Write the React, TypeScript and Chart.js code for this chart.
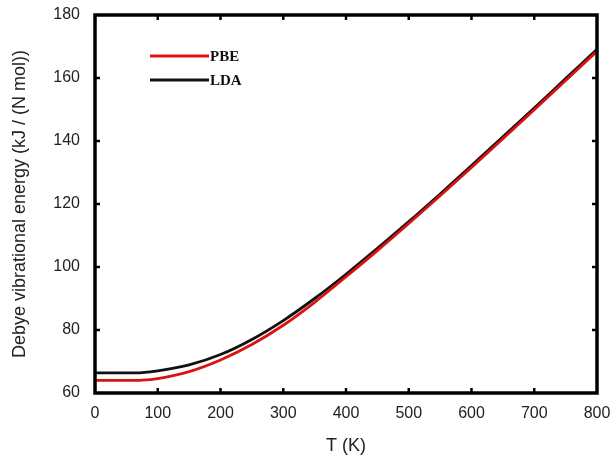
import React, { useEffect, useRef } from "react";
import { Chart, registerables } from "chart.js";

Chart.register(...registerables);

const temperatures = [0, 50, 75, 100, 150, 200, 250, 300, 350, 400, 450, 500, 550, 600, 650, 700, 750, 800];
const pbeValues = [64.0, 64.0, 64.1, 64.6, 66.8, 70.5, 75.4, 81.5, 88.8, 96.9, 105.2, 113.8, 122.6, 131.6, 140.7, 149.9, 159.2, 168.5];
const ldaValues = [66.4, 66.4, 66.5, 67.0, 68.9, 72.2, 77.0, 83.0, 90.0, 97.7, 105.9, 114.4, 123.2, 132.2, 141.3, 150.5, 159.8, 169.1];
const seriesLabels = ["PBE", "LDA"];
const xTicks = [0, 100, 200, 300, 400, 500, 600, 700, 800];
const yTicks = [60, 80, 100, 120, 140, 160, 180];

const frameAndLegend = {
  id: "frameAndLegend",
  afterDraw(chart: any) {
    const { ctx, chartArea } = chart;
    const { left, right, top, bottom } = chartArea;
    const xs = chart.scales.x;
    const ys = chart.scales.y;
    ctx.save();
    ctx.strokeStyle = "#000";
    ctx.lineCap = "butt";
    ctx.lineWidth = 2.5;
    const tl = 5;
    ctx.beginPath();
    xTicks.forEach((v) => {
      const px = xs.getPixelForValue(v);
      if (v === xTicks[0] || v === xTicks[xTicks.length - 1]) return;
      ctx.moveTo(px, bottom);
      ctx.lineTo(px, bottom - tl);
      ctx.moveTo(px, top);
      ctx.lineTo(px, top + tl);
    });
    yTicks.forEach((v) => {
      const py = ys.getPixelForValue(v);
      if (v === yTicks[0] || v === yTicks[yTicks.length - 1]) return;
      ctx.moveTo(left, py);
      ctx.lineTo(left + tl, py);
      ctx.moveTo(right, py);
      ctx.lineTo(right - tl, py);
    });
    ctx.stroke();
    ctx.lineWidth = 3.5;
    ctx.strokeRect(left, top, right - left, bottom - top);
    const ds = chart.data.datasets;
    const rows = [56, 80];
    ds.forEach((d: any, i: number) => {
      const y = rows[i];
      ctx.strokeStyle = d.borderColor;
      ctx.lineWidth = 3;
      ctx.beginPath();
      ctx.moveTo(150, y);
      ctx.lineTo(209, y);
      ctx.stroke();
      ctx.fillStyle = "#111";
      ctx.font = "bold 15px 'Liberation Serif', 'DejaVu Serif', serif";
      ctx.textAlign = "left";
      ctx.textBaseline = "middle";
      ctx.fillText(d.label, 210, y + 1);
    });
    ctx.restore();
  },
};

export default function App() {
  const canvasRef = useRef<HTMLCanvasElement | null>(null);

  useEffect(() => {
    document.body.style.margin = "0";
    const canvas = canvasRef.current;
    if (!canvas) return;
    const chart = new Chart(canvas, {
      type: "line",
      data: {
        datasets: [
          {
            label: seriesLabels[0],
            data: temperatures.map((t, i) => ({ x: t, y: pbeValues[i] })),
            borderColor: "#dc1212",
            borderWidth: 2.8,
            pointRadius: 0,
            cubicInterpolationMode: "monotone",
          },
          {
            label: seriesLabels[1],
            data: temperatures.map((t, i) => ({ x: t, y: ldaValues[i] })),
            borderColor: "#111111",
            borderWidth: 2.8,
            pointRadius: 0,
            cubicInterpolationMode: "monotone",
          },
        ],
      },
      plugins: [frameAndLegend],
      options: {
        animation: false,
        responsive: false,
        maintainAspectRatio: false,
        layout: { padding: { top: 15, right: 17, left: 0, bottom: 0 } },
        plugins: { legend: { display: false }, tooltip: { enabled: false } },
        scales: {
          x: {
            type: "linear",
            min: 0,
            max: 800,
            afterFit: (s: any) => {
              s.height = 67;
              s.paddingLeft = 0;
              s.paddingRight = 0;
              s.paddingTop = 0;
              s.paddingBottom = 0;
            },
            afterBuildTicks: (s: any) => {
              s.ticks = xTicks.map((v) => ({ value: v }));
            },
            grid: { display: false, drawTicks: false },
            border: { display: false },
            ticks: {
              padding: 11,
              color: "#222",
              font: { family: "'Liberation Sans', Arial, sans-serif", size: 16 },
            },
            title: {
              display: true,
              text: "T (K)",
              color: "#222",
              padding: { top: 0, bottom: 3 },
              font: { family: "'Liberation Sans', Arial, sans-serif", size: 18 },
            },
          },
          y: {
            type: "linear",
            min: 60,
            max: 180,
            afterFit: (s: any) => {
              s.width = 95;
              s.paddingLeft = 0;
              s.paddingRight = 0;
              s.paddingTop = 0;
              s.paddingBottom = 0;
            },
            afterBuildTicks: (s: any) => {
              s.ticks = yTicks.map((v) => ({ value: v }));
            },
            grid: { display: false, drawTicks: false },
            border: { display: false },
            ticks: {
              padding: 15,
              color: "#222",
              font: { family: "'Liberation Sans', Arial, sans-serif", size: 16 },
            },
            title: {
              display: true,
              text: "Debye vibrational energy (kJ / (N mol))",
              color: "#222",
              padding: { top: 9, bottom: 0 },
              font: { family: "'Liberation Sans', Arial, sans-serif", size: 18 },
            },
          },
        },
      },
    } as any);
    return () => chart.destroy();
  }, []);

  return (
    <div style={{ width: 614, height: 460, background: "#fff" }}>
      <canvas ref={canvasRef} width={614} height={460} style={{ display: "block" }} />
    </div>
  );
}
